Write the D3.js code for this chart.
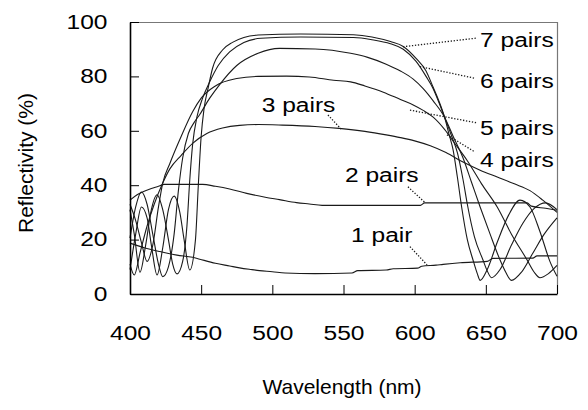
<!DOCTYPE html>
<html>
<head>
<meta charset="utf-8">
<script src="https://cdn.jsdelivr.net/npm/d3@7"></script>
<style>
  html, body { margin: 0; padding: 0; background: #fff; }
  svg { display: block; }
  text { font-family: "Liberation Sans", Arial, sans-serif; fill: #000; }
</style>
</head>
<body>
<svg id="chart" width="588" height="410"></svg>
<script>
// Reflectivity spectra of quarter-wave stacks, 1 to 7 layer pairs.
// Each series: [wavelength (nm), reflectivity (%)]
const pair1 = [[400,18.7],[410,17],[421,15.6],[433,14.3],[444,13.5],[449,12.8],[460,11.3],[470,10.3],[477,9.6],[485,9],[491,8.6],[500,8.2],[509,7.7],[530,7.5],[556,7.7],[560,8.6],[580,8.8],[585,9.3],[602,9.5],[605,10.2],[615,10.6],[620,10.9],[632,11.5],[651,12],[655,13.1],[683,13.2],[686,14],[700,14]];
const pair2 = [[400,34.5],[405,36.5],[410,37.8],[415,38.8],[420,39.6],[424,40.3],[451,40.3],[460,39.6],[470,38.6],[482,37],[495,35.6],[505,34.7],[517,33.6],[526,33.1],[535,32.6],[604,32.6],[607,33.5],[679,33.5],[682,32.3],[692,31.5],[700,30.8]];
const pair3 = [[400,11],[403,7],[407,15],[412,25],[417,33],[423,40.8],[428,46],[436,51],[444,55.4],[454,59],[465,61],[477,62],[490,62.3],[507,62.1],[530,61.6],[547,60.9],[565,59.8],[580,58.5],[590,57.5],[600,56.3],[611,54.5],[622,52],[634,48.5],[646,45.5],[658,43],[670,40.5],[681,38],[690,34.5],[700,30]];
const pair4 = [[400,33],[404,27],[408,19],[412,12],[416,18],[420,32],[423,40.8],[428,48],[436,58],[444,67],[450,72],[460,76.5],[475,79.2],[490,80],[510,80.1],[526,79.8],[543,78.6],[555,78],[565,76.5],[578,74.2],[590,71.5],[599,69.5],[606,67.5],[613,65],[621,60.5],[628,55.5],[637,49],[647,40.5],[658,32],[668,22],[679,12.5],[684,8],[688,6],[694,7.5],[700,10.5]];
const pair5 = [[400,20.6],[404,32],[408,37.5],[412,33],[416,22],[420,11],[423,6.4],[427,10],[431,22],[434,38],[437,50],[441,59],[445,63],[449,66],[456,72],[463,77],[475,84],[490,88.5],[505,90.3],[530,90.1],[555,88.5],[567,87],[580,84.5],[590,82],[599,79],[606,75.5],[613,71],[621,65],[627,58],[634,50],[640,41],[646,32],[653,22],[660,12.5],[664,8],[668,5],[675,8],[683,15],[691,22],[700,28]];
const pair6 = [[400,31],[403,22],[407,8],[411,18],[415,31],[419,36.5],[423,31],[427,20],[430,11],[433,7.4],[437,12],[440,25],[442,42],[444,55],[447,65],[451,72],[456,78],[462,84],[470,89],[480,92.5],[492,94],[520,94.5],[557,94.3],[570,93.5],[583,92],[592,90],[601,85.5],[608,80],[613,75.5],[617,70.5],[621,65],[626,58],[630,52],[634,42],[637,33],[642,21],[648,12.5],[651,8.5],[654,6],[660,9],[668,18],[676,26],[684,31.5],[692,33.5],[700,31]];
const pair7 = [[400,9],[404,22],[408,32],[412,28],[415,18],[419,7],[423,17],[427,31],[431,36],[435,30],[438,20],[442,8.8],[446,20],[448,40],[450,58],[452,68],[455,76],[458,83],[465,89.7],[472,92.5],[480,94.3],[490,95.2],[520,95.6],[557,95.3],[570,94.5],[583,92.8],[592,91],[601,86.6],[608,82],[613,76],[617,71],[621,65],[624,59],[627,53],[630,43],[633,32],[637,20],[641,12.5],[644,7.5],[646,5],[651,9],[658,19],[666,29],[674,34.5],[681,32],[688,23],[695,12],[700,6.5]];

const seriesNames = ["1 pair", "2 pairs", "3 pairs", "4 pairs", "5 pairs", "6 pairs", "7 pairs"];
const seriesData = [pair1, pair2, pair3, pair4, pair5, pair6, pair7];

const xTicks = [400, 450, 500, 550, 600, 650, 700];
const yTicks = [0, 20, 40, 60, 80, 100];

// Label anchor (wavelength, reflectivity) and leader line ends, in data units
const labelAt = [[555.3,19.2],[551,41.3],[492.5,67],[645.9,46.8],[645.9,58.5],[645.9,75.6],[645.9,90.9]];
const leaderFrom = [[596.7,17.4],[595.3,39.4],[539.1,65.8],[622.7,58.5],[596.7,67.6],[603.7,83.6],[591.8,90.9]];
const leaderTo = [[608.7,10.7],[607.3,33.6],[548.9,60.3],[642.4,52.2],[643.8,62.9],[642.4,79.3],[643.8,94.1]];

const svg = d3.select("#chart");
const plot = { left: 130, right: 557, top: 22, bottom: 294 };
const stretch = 1.17;

const x = d3.scaleLinear().domain([400, 700]).range([plot.left, plot.right]);
const y = d3.scaleLinear().domain([0, 100]).range([plot.bottom, plot.top]);

// frame: top and right edges
svg.append("line")
  .attr("x1", plot.left).attr("x2", plot.right)
  .attr("y1", plot.top + 0.5).attr("y2", plot.top + 0.5)
  .attr("stroke", "#777").attr("stroke-width", 1.2);
svg.append("line")
  .attr("x1", plot.right + 0.5).attr("x2", plot.right + 0.5)
  .attr("y1", plot.top).attr("y2", plot.bottom)
  .attr("stroke", "#777").attr("stroke-width", 1.2);

// curves
const line = d3.line()
  .x(d => x(d[0]))
  .y(d => y(d[1]))
  .curve(d3.curveMonotoneX);

svg.append("g")
  .selectAll("path")
  .data(seriesData)
  .join("path")
  .attr("d", line)
  .attr("fill", "none")
  .attr("stroke", "#1a1a1a")
  .attr("stroke-width", 1.1);

// axes
const xAxis = d3.axisBottom(x).tickValues(xTicks).tickSizeInner(-9).tickSizeOuter(0).tickPadding(31);
const gx = svg.append("g").attr("transform", `translate(0,${plot.bottom})`).call(xAxis);
gx.select(".domain").attr("stroke", "#000").attr("stroke-width", 1.6);
gx.selectAll(".tick line").attr("stroke", "#000").attr("stroke-width", 1);
gx.selectAll(".tick text")
  .attr("font-size", 21)
  .attr("font-family", "Liberation Sans, Arial, sans-serif")
  .attr("transform", `scale(${stretch},1)`);

const yAxis = d3.axisLeft(y).tickValues(yTicks).tickSizeInner(-9).tickSizeOuter(0).tickPadding(22.5);
const gy = svg.append("g").attr("transform", `translate(${plot.left},0)`).call(yAxis);
gy.select(".domain").attr("stroke", "#000").attr("stroke-width", 1.6);
gy.selectAll(".tick line").attr("stroke", "#000").attr("stroke-width", 1);
gy.selectAll(".tick text")
  .attr("font-size", 21)
  .attr("font-family", "Liberation Sans, Arial, sans-serif")
  .attr("x", 0)
  .attr("dy", "0.3em")
  .attr("transform", `translate(-22.5,0) scale(${stretch},1)`);

// axis titles
svg.append("text")
  .attr("x", 342).attr("y", 394)
  .attr("text-anchor", "middle")
  .attr("font-size", 21)
  .text("Wavelength (nm)");

svg.append("text")
  .attr("transform", "translate(33,163) rotate(-90)")
  .attr("text-anchor", "middle")
  .attr("font-size", 21)
  .text("Reflectivity (%)");

// dotted leaders and series labels
svg.append("g")
  .selectAll("line")
  .data(seriesNames.map((n, i) => [leaderFrom[i], leaderTo[i]]))
  .join("line")
  .attr("x1", d => x(d[0][0])).attr("y1", d => y(d[0][1]))
  .attr("x2", d => x(d[1][0])).attr("y2", d => y(d[1][1]))
  .attr("stroke", "#1a1a1a")
  .attr("stroke-width", 1.3)
  .attr("stroke-dasharray", "1.3,1.7");

svg.append("g")
  .selectAll("text")
  .data(seriesNames)
  .join("text")
  .attr("transform", (d, i) => `translate(${x(labelAt[i][0])},${y(labelAt[i][1])}) scale(${stretch},1)`)
  .attr("font-size", 21)
  .text(d => d);
</script>
</body>
</html>
